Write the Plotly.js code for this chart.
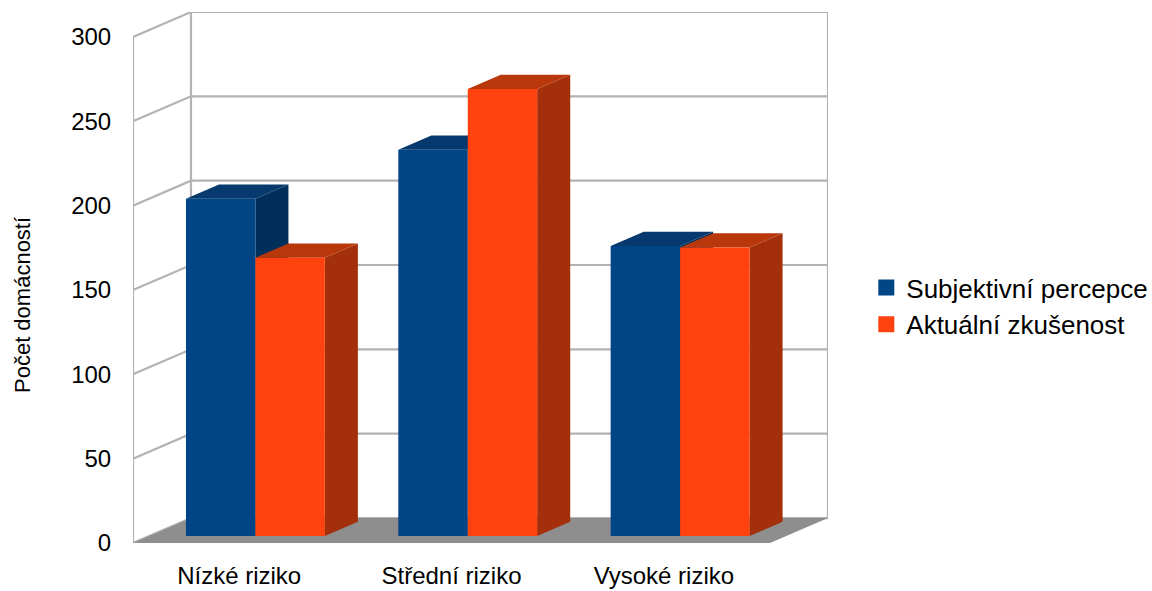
<!DOCTYPE html>
<html><head><meta charset="utf-8">
<script src="https://cdn.plot.ly/plotly-3.0.1.min.js"></script>
<style>html,body{margin:0;padding:0;background:#fff}#chart{width:1152px;height:591px}</style>
</head><body><div id="chart"></div>
<script>
const categories = ['Nízké riziko', 'Střední riziko', 'Vysoké riziko'];
const seriesNames = ['Subjektivní percepce', 'Aktuální zkušenost'];
const subjektivni = [200, 229, 172];
const aktualni = [165, 265, 171];
const yTicks = [0, 50, 100, 150, 200, 250, 300];
const yTitle = 'Počet domácností';

// oblique 3D projection parameters (axis units)
const DX = 0.273, DY = 14.8;     // offset of full depth
const F0 = 0.28, DEPTH = 0.57;   // bar front depth, bar depth
const BW = 0.327;                // bar width
const YMAX = 300;
const N = categories.length;

const colors = {
  blue: {front: '#004586', top: '#063a6e', side: '#002f5c'},
  orange: {front: '#ff420e', top: '#b8380c', side: '#a3300a'}
};

function pushPoly(arr, pts) {
  pts.forEach(p => { arr.x.push(p[0]); arr.y.push(p[1]); });
  arr.x.push(null); arr.y.push(null);
}

function barFaces(values, offset) {
  const front = {x: [], y: []}, top = {x: [], y: []}, side = {x: [], y: []};
  const g = F0 + DEPTH;
  values.forEach((v, i) => {
    const xl = i + 0.5 + offset;
    const xr = xl + BW;
    pushPoly(front, [[xl + F0*DX, F0*DY], [xr + F0*DX, F0*DY], [xr + F0*DX, v + F0*DY], [xl + F0*DX, v + F0*DY]]);
    pushPoly(top, [[xl + F0*DX, v + F0*DY], [xr + F0*DX, v + F0*DY], [xr + g*DX, v + g*DY], [xl + g*DX, v + g*DY]]);
    pushPoly(side, [[xr + F0*DX, F0*DY], [xr + g*DX, g*DY], [xr + g*DX, v + g*DY], [xr + F0*DX, v + F0*DY]]);
  });
  return {front, top, side};
}

function polyTrace(d, color) {
  return {x: d.x, y: d.y, type: 'scatter', mode: 'lines', fill: 'toself', fillcolor: color,
          line: {width: 0, color: color}, hoverinfo: 'skip', showlegend: false};
}

// walls & grid
const grid = {x: [], y: []};
yTicks.forEach(v => {
  grid.x.push(0, DX, N + DX, null);
  grid.y.push(v, v + DY, v + DY, null);
});
grid.x.push(0, 0, null, DX, DX, null, N + DX, N + DX, null);
grid.y.push(0, YMAX, null, DY, YMAX + DY, null, DY, YMAX + DY, null);

const floor = {x: [0, DX, N + DX, N, 0], y: [0, DY, DY, 0, 0]};

const blue = barFaces(subjektivni, -BW);
const orange = barFaces(aktualni, 0);

const traces = [
  {x: grid.x, y: grid.y, type: 'scatter', mode: 'lines', line: {color: '#b3b3b3', width: 2.2},
   hoverinfo: 'skip', showlegend: false},
  {x: floor.x, y: floor.y, type: 'scatter', mode: 'lines', fill: 'toself', fillcolor: '#8e8e8e',
   line: {width: 0}, hoverinfo: 'skip', showlegend: false},
  polyTrace(blue.side, colors.blue.side),
  polyTrace(blue.top, colors.blue.top),
  polyTrace(blue.front, colors.blue.front),
  polyTrace(orange.side, colors.orange.side),
  polyTrace(orange.top, colors.orange.top),
  polyTrace(orange.front, colors.orange.front),
  {x: [null], y: [null], type: 'scatter', mode: 'markers', name: seriesNames[0],
   marker: {symbol: 'square', size: 16, color: colors.blue.front}},
  {x: [null], y: [null], type: 'scatter', mode: 'markers', name: seriesNames[1],
   marker: {symbol: 'square', size: 16, color: colors.orange.front}}
];

const font = 'Liberation Sans, Arial, sans-serif';
const layout = {
  width: 1152, height: 591,
  margin: {l: 133, r: 324, t: 12, b: 48},
  paper_bgcolor: '#ffffff', plot_bgcolor: 'rgba(0,0,0,0)',
  font: {family: font, color: '#000000'},
  showlegend: true,
  legend: {xref: 'container', yref: 'container', x: 0.752, y: 0.482, xanchor: 'left', yanchor: 'middle',
           font: {size: 26, family: font, color: '#000'}, itemwidth: 30, bgcolor: 'rgba(0,0,0,0)'},
  xaxis: {range: [0, N + DX], tickvals: categories.map((c, i) => i + 0.5), ticktext: categories,
          showgrid: false, zeroline: false, showline: false, ticks: 'outside', ticklen: 11,
          tickcolor: 'rgba(0,0,0,0)', tickfont: {size: 24, family: font, color: '#000'},
          automargin: false, fixedrange: true},
  yaxis: {range: [0, YMAX + DY], tickvals: yTicks, showgrid: false, zeroline: false, showline: false,
          ticks: 'outside', ticklen: 16, tickcolor: 'rgba(0,0,0,0)',
          tickfont: {size: 24, family: font, color: '#000'}, automargin: false, fixedrange: true},
  annotations: [{text: yTitle, textangle: -90, xref: 'paper', yref: 'paper',
                 x: (22 - 133) / 695, y: (543 - 305) / 531, xanchor: 'center', yanchor: 'middle',
                 showarrow: false, font: {size: 22, family: font, color: '#000'}}],
  hovermode: false
};

Plotly.newPlot('chart', traces, layout, {displayModeBar: false, staticPlot: true});
</script>
</body></html>
